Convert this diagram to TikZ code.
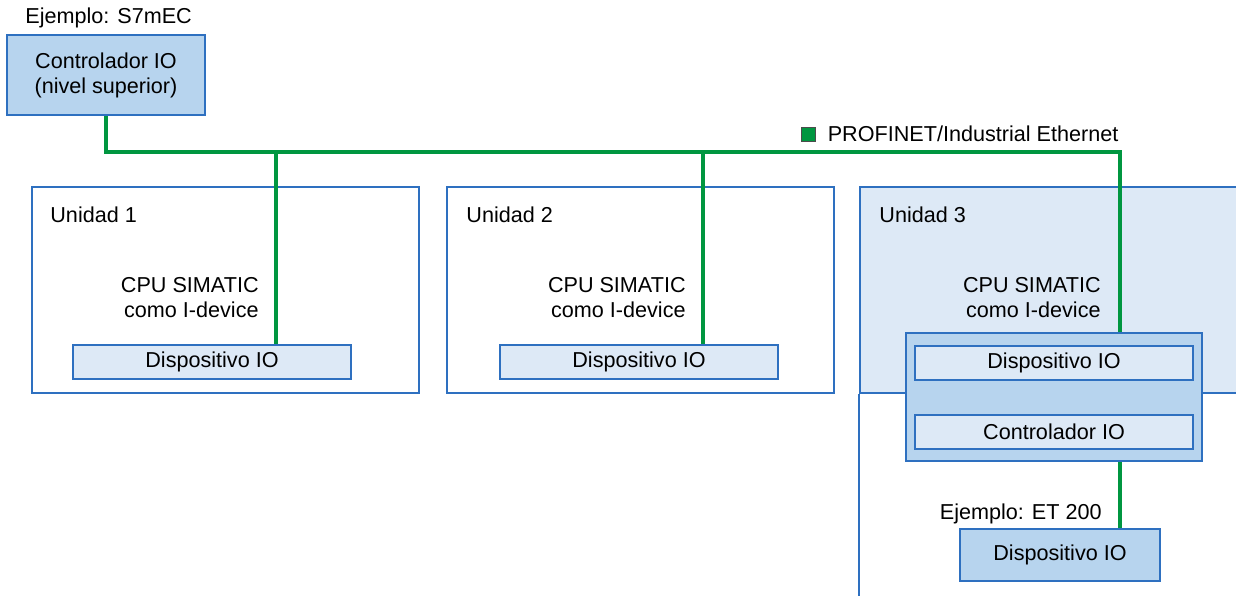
\documentclass[tikz,border=0pt]{standalone}
\usepackage{fontspec}
\setmainfont{Liberation Sans}
\usepackage{xcolor}
\usepackage{tikz}
\usetikzlibrary{positioning}
\definecolor{sblue}{RGB}{46,112,192}
\definecolor{sfill}{RGB}{183,212,238}
\definecolor{slight}{RGB}{221,233,246}
\definecolor{sgreen}{RGB}{0,150,64}

\begin{document}
\begin{tikzpicture}[x=0.5pt, y=-0.5pt,
        font=\fontsize{10.8}{12.5}\selectfont,
        txt/.style={inner sep=0pt},
        unitbox/.style={draw=sblue, line width=1pt, inner sep=0pt},
        devbox/.style={draw=sblue, line width=1pt, fill=slight, inner sep=0pt,
            minimum width=139pt, minimum height=17pt},
        bus/.style={draw=sgreen, line width=2pt}]
        \useasboundingbox (0,0) rectangle (1236,595);
        \clip (0,0) rectangle (1236,595);

        % upper level controller
        \node[unitbox, fill=sfill, minimum width=99pt, minimum height=40pt, align=center] (ctrl) at (106,75) {Controlador IO\\(nivel superior)};
        \node[txt, anchor=west] (ej1) at (25,18) {Ejemplo: S7mEC};

        % units
        \node[unitbox, minimum width=193.5pt, minimum height=103pt] (u1) at (225.5,290) {};
        \node[unitbox, minimum width=193.5pt, minimum height=103pt] (u2) at (640.5,290) {};
        \node[unitbox, fill=slight, minimum width=200pt, minimum height=103pt] (u3) at (1060,290) {};
        \draw[sblue, line width=1pt] (u3.south west) -- ++(0,220);

        \node[txt, anchor=west] at (50,215) {Unidad 1};
        \node[txt, anchor=west] at (466,215) {Unidad 2};
        \node[txt, anchor=west] at (879,215) {Unidad 3};
        \node[txt, anchor=east, align=right] at (259,298) {CPU SIMATIC\\como I-device};
        \node[txt, anchor=east, align=right] at (686,298) {CPU SIMATIC\\como I-device};
        \node[txt, anchor=east, align=right] at (1101,298) {CPU SIMATIC\\como I-device};

        % devices
        \node[devbox] (d1) at (212,362) {Dispositivo IO};
        \node[devbox] (d2) at (639,362) {Dispositivo IO};
        \node[unitbox, fill=sfill, minimum width=148pt, minimum height=64pt] (c3) at (1054,397) {};
        \node[devbox] (d3) at (1054,362.5) {Dispositivo IO};
        \node[devbox] (k3) at (1054,432) {Controlador IO};
        \node[unitbox, fill=sfill, minimum width=100pt, minimum height=26pt] (et) at (1060,555) {Dispositivo IO};
        \node[txt, anchor=east] (ej2) at (1102,514) {Ejemplo: ET 200};

        % PROFINET bus
        \coordinate (tap1) at (276,152);
        \coordinate (tap2) at (703,152);
        \coordinate (tap3) at (1120,152);
        \draw[bus] (ctrl.south) |- (tap3) -- (tap3 |- c3.north);
        \draw[bus] (tap1) -- (tap1 |- d1.north);
        \draw[bus] (tap2) -- (tap2 |- d2.north);
        \draw[bus] (tap3 |- c3.south) -- (tap3 |- et.north);

        % legend
        \node[draw=black!70, fill=sgreen, minimum size=7pt, inner sep=0pt] (leg) at (808,134) {};
        \node[txt, right=6pt of leg] (legtxt) {PROFINET/Industrial Ethernet};
\end{tikzpicture}
\end{document}
